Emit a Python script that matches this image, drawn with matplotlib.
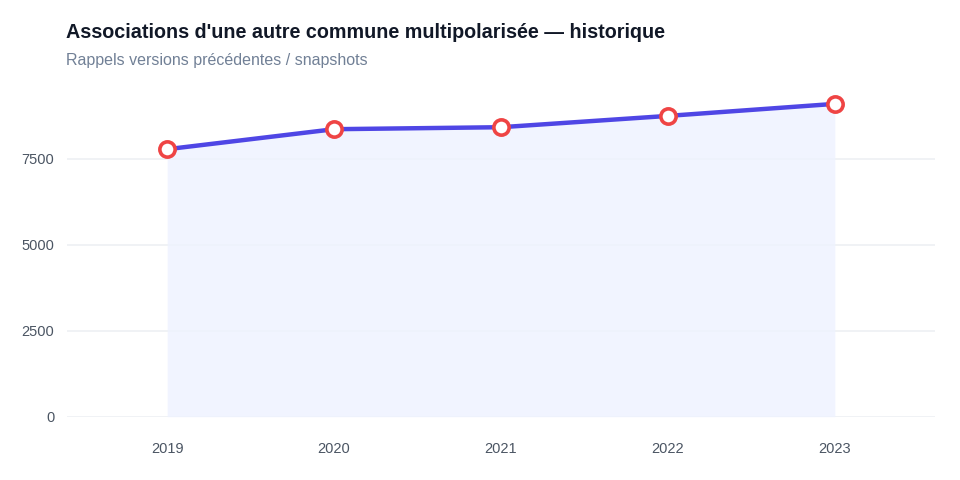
import matplotlib
matplotlib.use("Agg")
import matplotlib.pyplot as plt

years = [2019, 2020, 2021, 2022, 2023]
values = [7782, 8364, 8422, 8751, 9101]
yticks = [0, 2500, 5000, 7500]

title = "Associations d'une autre commune multipolarisée — historique"
subtitle = "Rappels versions précédentes / snapshots"

plt.rcParams['font.family'] = ['Liberation Sans', 'DejaVu Sans']

fig = plt.figure(figsize=(9.6, 4.8), dpi=100)
ax = fig.add_axes([67/960, 1 - 416.7/480, (935-67)/960, (416.7-85)/480])

ax.fill_between(years, values, 0, color='#eef2ff', alpha=0.8, linewidth=0, zorder=1)
ax.plot(years, values, color='#4f46e5', linewidth=3.2, zorder=3,
        marker='o', markersize=11, markerfacecolor='white',
        markeredgecolor='#ef4444', markeredgewidth=2.6)

ax.set_xlim(2018.4, 2023.6)
ax.set_ylim(0, 9650)
ax.set_xticks(years)
ax.set_xticklabels([str(y) for y in years])
ax.set_yticks(yticks)
ax.grid(axis='y', color='#eef0f4', linewidth=1.2, zorder=0)
ax.set_axisbelow(True)
for s in ax.spines.values():
    s.set_visible(False)
ax.tick_params(length=0, labelsize=10.5, colors='#4b5563', pad=9)
ax.tick_params(axis='x', pad=18)

fig.text(66/960, 1 - 33/480, title, fontsize=14.2, fontweight='bold',
         color='#111827', va='center', ha='left')
fig.text(66/960, 1 - 60/480, subtitle, fontsize=11.5,
         color='#718096', va='center', ha='left')

fig.savefig("out.png", dpi=100)
